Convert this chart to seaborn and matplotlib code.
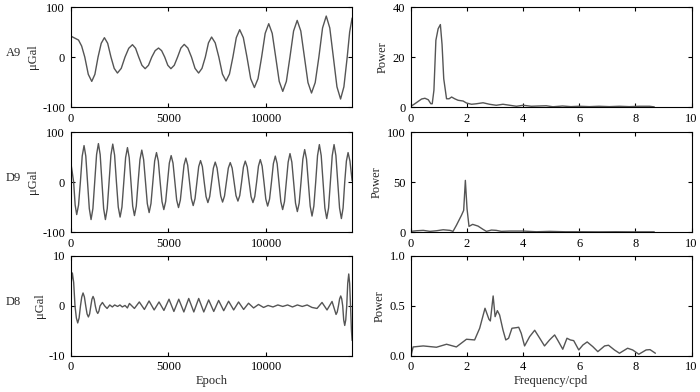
import matplotlib
matplotlib.use("Agg")
from matplotlib import pyplot as plt
import pandas as pd
import seaborn as sns

# time series
a9_epoch = [0, 200, 400, 560, 720,
            900, 1077, 1238, 1400, 1562, 1725, 1892, 2060, 2226, 2392, 2586, 2780,
            2970, 3160, 3320, 3480, 3645, 3810, 3980, 4150, 4322, 4495, 4652, 4810,
            4969, 5128, 5299, 5470, 5640, 5810, 5995, 6180, 6362, 6545, 6718, 6890,
            7050, 7210, 7395, 7580, 7764, 7948, 8124, 8300, 8474, 8648, 8834, 9020,
            9210, 9400, 9585, 9770, 9952, 10134, 10312, 10490, 10671, 10852, 11036, 11220,
            11405, 11590, 11775, 11960, 12142, 12323, 12512, 12700, 12888, 13077, 13258, 13440,
            13625, 13810, 13980, 14150, 14275, 14400]
a9_value = [42, 38, 34, 22, 0,
            -34.6, -48.7, -34.6, 0, 27.5, 38.7, 27.5, 0, -22.7, -32, -22.7, 0,
            17.5, 24.7, 17.5, 0, -16.5, -23.3, -16.5, 0, 12.8, 18, 12.8, 0,
            -16.5, -23.3, -16.5, 0, 18, 25.3, 18, 0, -22.7, -32, -22.7, 0,
            28.4, 40, 28.4, 0, -34.1, -48, -34.1, 0, 38.8, 54.7, 38.8, 0,
            -43.3, -61, -43.3, 0, 47.4, 66.7, 47.4, 0, -48.8, -68.7, -48.8, 0,
            52, 73.3, 52, 0, -51.1, -72, -51.1, 0, 58.2, 82, 58.2, 0,
            -59.6, -84, -59.6, 0, 50, 78]

d9_epoch = [0, 75, 150,
            228, 307, 401, 495, 589, 683, 772, 862,
            952, 1042, 1136, 1230, 1324, 1418, 1508, 1597,
            1686, 1776, 1870, 1964, 2058, 2152, 2246, 2340,
            2434, 2528, 2622, 2716, 2810, 2904, 2994, 3083,
            3172, 3262, 3356, 3450, 3544, 3638, 3732, 3826,
            3920, 4014, 4108, 4202, 4296, 4390, 4484, 4578,
            4672, 4765, 4859, 4953, 5047, 5141, 5235, 5329,
            5423, 5517, 5611, 5705, 5799, 5893, 5986, 6080,
            6174, 6268, 6362, 6456, 6550, 6644, 6738, 6832,
            6926, 7020, 7114, 7208, 7302, 7396, 7490, 7584,
            7678, 7772, 7870, 7968, 8066, 8164, 8262, 8360,
            8458, 8557, 8651, 8745, 8839, 8933, 9032, 9130,
            9228, 9326, 9420, 9514, 9608, 9702, 9796, 9890,
            9984, 10077, 10176, 10274, 10372, 10470, 10564, 10658,
            10752, 10846, 10940, 11034, 11128, 11222, 11316, 11410,
            11504, 11598, 11692, 11786, 11880, 11973, 12067, 12161,
            12255, 12349, 12443, 12537, 12631, 12725, 12819, 12913,
            13007, 13101, 13195, 13289, 13383, 13477, 13571, 13665,
            13758, 13852, 13938, 14023, 14108, 14194, 14290, 14400]
d9_value = [40, 21, 0,
            -46, -65, -46, 0, 52, 73, 52, 0,
            -53, -75, -53, 0, 55, 77, 55, 0,
            -53, -75, -53, 0, 54, 76, 54, 0,
            -50, -70, -50, 0, 49, 69, 49, 0,
            -48, -67, -48, 0, 45, 64, 45, 0,
            -43, -61, -43, 0, 42, 59, 42, 0,
            -39, -55, -39, 0, 38, 53, 38, 0,
            -36, -51, -36, 0, 34, 48, 34, 0,
            -33, -47, -33, 0, 31, 43, 31, 0,
            -29, -41, -29, 0, 28, 40, 28, 0,
            -28, -40, -28, 0, 28, 39, 28, 0,
            -27, -38, -27, 0, 30, 42, 30, 0,
            -29, -41, -29, 0, 32, 45, 32, 0,
            -34, -48, -34, 0, 37, 52, 37, 0,
            -39, -55, -39, 0, 40, 57, 40, 0,
            -42, -59, -42, 0, 46, 65, 46, 0,
            -48, -68, -48, 0, 53, 75, 53, 0,
            -52, -73, -52, 0, 53, 75, 53, 0,
            -52, -73, -52, 0, 42, 59, 42, 3]

d8_epoch = [0, 85, 152, 220, 290, 359, 430, 500, 566, 632, 701, 770, 838, 905, 968, 1030,
            1087, 1144, 1202, 1260, 1322, 1384, 1442, 1500, 1623, 1740, 1862,
            2000, 2130, 2250, 2400, 2520, 2640, 2780, 2900,
            3006, 3260, 3510, 3770, 4010, 4270, 4520, 4770, 5030, 5280, 5530, 5790,
            6040, 6300, 6550, 6810, 7060, 7320, 7570, 7830, 8080, 8340, 8590, 8850,
            9100, 9360, 9610, 9870, 10100, 10350, 10600, 10850, 11100, 11350, 11600, 11850,
            12100, 12350, 12605, 12861, 13117, 13374, 13579, 13640, 13700, 13760, 13818,
            13870, 13920, 13970, 14023, 14075, 14125, 14176, 14228, 14275, 14320, 14365, 14400]
d8_value = [4.0, 6.6, 4.7, 0, -2.4, -3.4, -2.4, 0, 1.8, 2.6, 1.8, 0, -1.6, -2.2, -1.6, 0,
            1.35, 1.9, 1.35, 0, -1.05, -1.5, -1.05, 0, 0.7, 0, -0.5,
            0.2, -0.2, 0.2, -0.1, 0.2, -0.2, 0.1, -0.4,
            0.5, -0.5, 0.8, -0.7, 1.0, -0.8, 0.8, -0.9, 1.35, -1.1, 1.35, -1.2,
            1.5, -1.2, 1.5, -1.2, 1.2, -1.1, 1.1, -0.95, 0.95, -0.8, 0.8, -0.7,
            0.55, -0.4, 0.3, -0.3, 0.1, -0.2, 0.2, -0.1, 0.2, -0.2, 0.2, -0.1,
            0.2, -0.3, -0.5, 0.7, -0.8, 0.9, -1.7, -1.2, 0, 1.4, 2.0,
            1.4, 0, -2.8, -3.9, -2.8, 0, 4.5, 6.4, 4.5, 0, -4.8, -6.9]

# power spectra
a9_freq = [0, 0.14, 0.38, 0.5, 0.62, 0.71, 0.76, 0.82, 0.89, 0.97, 1.05, 1.11, 1.17, 1.27,
           1.36, 1.45, 1.56, 1.68, 1.86, 1.98, 2.16, 2.33, 2.57, 2.8, 3.04, 3.28, 3.52,
           3.76, 4.0, 4.29, 4.53, 4.82, 5.06, 5.4, 5.7, 6.0, 6.36, 6.7, 7.07, 7.43, 7.78,
           8.14, 8.5, 8.67]
a9_power = [0.3, 1.3, 3.2, 3.5, 2.9, 1.3, 1.3, 6.7, 26.7, 31.3, 33, 25, 11.3, 3.3,
            3.3, 4, 3.3, 2.7, 2.4, 1.6, 1.1, 1.3, 1.7, 1.1, 0.7, 1.1, 0.7,
            0.3, 0.7, 0.3, 0.4, 0.5, 0.1, 0.4, 0.15, 0.3, 0.15, 0.3, 0.15, 0.3, 0.15,
            0.3, 0.3, 0.05]

d9_freq = [0, 0.2, 0.44, 0.68, 0.91, 1.15, 1.39, 1.5, 1.62, 1.8, 1.88, 1.94, 2.0, 2.07,
           2.2, 2.39, 2.57, 2.69, 2.87, 3.04, 3.22, 3.52, 4.0, 4.47, 4.94, 5.5, 6.1, 6.7,
           7.3, 7.9, 8.67]
d9_power = [0.7, 1.3, 1.7, 0.7, 1.3, 2.3, 1.7, 0.7, 6.7, 16.7, 21.7, 51.7, 23.3, 5.7,
            7.7, 6, 2.7, 0.7, 2, 1.7, 0.7, 1, 1, 0.3, 0.7, 0.3, 0.3, 0.2,
            0.3, 0.2, 0.2]

d8_freq = [0, 0.08, 0.44, 0.91, 1.27, 1.62, 1.98, 2.27, 2.45, 2.64, 2.78, 2.83, 2.93, 3.0,
           3.08, 3.16, 3.28, 3.38, 3.48, 3.6, 3.76, 3.84, 3.93, 4.05, 4.23, 4.41, 4.59,
           4.76, 4.94, 5.0, 5.12, 5.24, 5.41, 5.56, 5.68, 5.8, 5.98, 6.13, 6.28, 6.48,
           6.66, 6.9, 7.04, 7.25, 7.43, 7.72, 7.9, 8.12, 8.38, 8.52, 8.71]
d8_power = [0.0, 0.09, 0.1, 0.087, 0.117, 0.09, 0.167, 0.16, 0.277, 0.477, 0.367, 0.35, 0.6, 0.393,
            0.453, 0.41, 0.26, 0.16, 0.177, 0.277, 0.283, 0.287, 0.227, 0.1, 0.193, 0.257, 0.177,
            0.1, 0.16, 0.177, 0.21, 0.153, 0.067, 0.177, 0.16, 0.153, 0.06, 0.11, 0.14, 0.093,
            0.043, 0.1, 0.107, 0.06, 0.027, 0.077, 0.06, 0.017, 0.06, 0.063, 0.027]

row_names = ['A9', 'D9', 'D8']

sns.set_style('ticks')
plt.rcParams['font.family'] = ['Liberation Serif', 'DejaVu Serif']
plt.rcParams['axes.unicode_minus'] = False
plt.rcParams['font.size'] = 9

fig = plt.figure(figsize=(7, 3.92), dpi=100)

line_color = '#555555'
bottoms = [0.727, 0.408, 0.092]
series = [(a9_epoch, a9_value), (d9_epoch, d9_value), (d8_epoch, d8_value)]
spectra = [(a9_freq, a9_power), (d9_freq, d9_power), (d8_freq, d8_power)]
ylims_t = [(-100, 100), (-100, 100), (-10, 10)]
ylims_p = [(0, 40), (0, 100), (0, 1.0)]
yticks_p = [[0, 20, 40], [0, 50, 100], [0.0, 0.5, 1.0]]


def style_axes(ax):
    ax.tick_params(direction='in', top=True, right=True, length=3, width=0.8,
                   labelsize=9, pad=4, colors='black')
    for s in ax.spines.values():
        s.set_linewidth(0.8)
        s.set_color('black')


for i in range(3):
    # left: time series
    ax = fig.add_axes([0.101, bottoms[i], 0.402, 0.255])
    df = pd.DataFrame({'epoch': series[i][0], 'value': series[i][1]})
    sns.lineplot(data=df, x='epoch', y='value', ax=ax, color=line_color,
                 linewidth=1.0, estimator=None, sort=False)
    ax.set_xlim(0, 14400)
    ax.set_ylim(*ylims_t[i])
    ax.set_xticks([0, 5000, 10000])
    ax.set_yticks([ylims_t[i][0], 0, ylims_t[i][1]])
    ax.set_ylabel('μGal', fontsize=9, labelpad=2)
    ax.set_xlabel('Epoch' if i == 2 else '', fontsize=9, labelpad=1)
    style_axes(ax)

    # right: power spectrum
    ax2 = fig.add_axes([0.587, bottoms[i], 0.401, 0.255])
    dfp = pd.DataFrame({'freq': spectra[i][0], 'power': spectra[i][1]})
    sns.lineplot(data=dfp, x='freq', y='power', ax=ax2, color=line_color,
                 linewidth=1.0, estimator=None, sort=False)
    ax2.set_xlim(0, 10)
    ax2.set_ylim(*ylims_p[i])
    ax2.set_xticks([0, 2, 4, 6, 8, 10])
    ax2.set_yticks(yticks_p[i])
    if i == 2:
        ax2.set_yticklabels(['0.0', '0.5', '1.0'])
    ax2.set_ylabel('Power', fontsize=9, labelpad=3)
    ax2.set_xlabel('Frequency/cpd' if i == 2 else '', fontsize=9, labelpad=1)
    style_axes(ax2)

    # row label
    yc = bottoms[i] + 0.255 / 2 + 0.01
    fig.text(0.019, yc, row_names[i], fontsize=9, ha='center', va='center')

fig.savefig('out.png', dpi=100)
